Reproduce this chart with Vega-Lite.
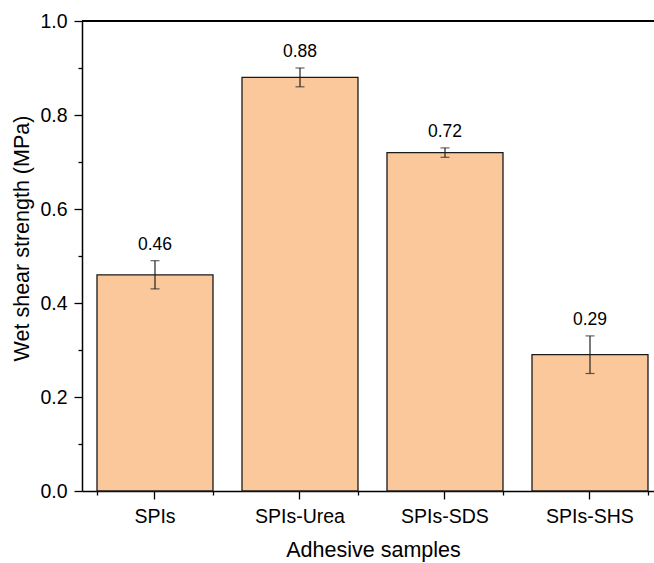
{
  "$schema": "https://vega.github.io/schema/vega-lite/v6.json",
  "width": 572,
  "height": 470,
  "autosize": {"type": "none"},
  "padding": {"left": 82, "top": 21, "right": 0, "bottom": 72},
  "background": "white",
  "config": {
    "view": {"stroke": null},
    "font": "Liberation Sans",
    "axis": {
      "domainColor": "#000000",
      "domainWidth": 1.5,
      "tickColor": "#000000",
      "tickWidth": 1.3,
      "labelColor": "#000000",
      "titleColor": "#000000",
      "labelFont": "Liberation Sans",
      "titleFont": "Liberation Sans",
      "titleFontWeight": "normal",
      "grid": false
    }
  },
  "data": {
    "values": [
      {"sample": "SPIs", "value": 0.46, "lo": 0.43, "hi": 0.49, "label": "0.46"},
      {"sample": "SPIs-Urea", "value": 0.88, "lo": 0.86, "hi": 0.90, "label": "0.88"},
      {"sample": "SPIs-SDS", "value": 0.72, "lo": 0.71, "hi": 0.73, "label": "0.72"},
      {"sample": "SPIs-SHS", "value": 0.29, "lo": 0.25, "hi": 0.33, "label": "0.29"}
    ]
  },
  "resolve": {"axis": {"x": "independent"}},
  "layer": [
    {
      "mark": {"type": "bar", "fill": "#FAC89B", "stroke": "#1a1a1a", "strokeWidth": 1.3},
      "encoding": {
        "x": {
          "field": "sample", "type": "nominal", "sort": null,
          "scale": {"paddingInner": 0.2, "paddingOuter": 0.0724, "align": 0.714, "round": false},
          "axis": {
            "orient": "bottom",
            "title": "Adhesive samples",
            "titleFontSize": 21.5,
            "titlePadding": 14,
            "titleX": 291,
            "labelFontSize": 19.5,
            "labelAngle": 0,
            "labelPadding": 8,
            "tickSize": 8,
            "offset": 0
          }
        },
        "y": {
          "field": "value", "type": "quantitative",
          "title": "Wet shear strength (MPa)",
          "scale": {"domain": [0, 1], "nice": false, "zero": true},
          "axis": {
            "values": [0, 0.1, 0.2, 0.3, 0.4, 0.5, 0.6, 0.7, 0.8, 0.9, 1.0],
            "labelExpr": "round(datum.value*10) % 2 == 0 ? format(datum.value, '.1f') : ''",
            "tickSize": {"condition": {"test": "round(datum.value*10) % 2 == 0", "value": 8}, "value": 4},
            "labelFontSize": 19.5,
            "labelPadding": 7,
            "titleFontSize": 21.5,
            "titlePadding": 6,
            "titleY": 217,
            "offset": 0
          }
        }
      }
    },
    {
      "mark": {"type": "rule", "color": "#222222", "strokeWidth": 1.2},
      "encoding": {
        "x": {
          "field": "sample", "type": "nominal", "sort": null,
          "axis": {
            "orient": "bottom",
            "tickBand": "extent",
            "labels": false,
            "title": null,
            "domain": false,
            "tickSize": 4,
            "offset": 0
          }
        },
        "y": {"field": "lo", "type": "quantitative", "title": "Wet shear strength (MPa)"},
        "y2": {"field": "hi"}
      }
    },
    {
      "mark": {"type": "tick", "color": "#222222", "thickness": 1.2, "size": 9},
      "encoding": {
        "x": {"field": "sample", "type": "nominal", "sort": null, "axis": null},
        "y": {"field": "lo", "type": "quantitative", "title": "Wet shear strength (MPa)"}
      }
    },
    {
      "mark": {"type": "tick", "color": "#222222", "thickness": 1.2, "size": 9},
      "encoding": {
        "x": {"field": "sample", "type": "nominal", "sort": null, "axis": null},
        "y": {"field": "hi", "type": "quantitative", "title": "Wet shear strength (MPa)"}
      }
    },
    {
      "mark": {"type": "text", "fontSize": 17.5, "font": "Liberation Sans", "color": "#000000", "baseline": "alphabetic", "dy": -11},
      "encoding": {
        "x": {"field": "sample", "type": "nominal", "sort": null, "axis": null},
        "y": {"field": "hi", "type": "quantitative", "title": "Wet shear strength (MPa)"},
        "text": {"field": "label"}
      }
    },
    {
      "mark": {"type": "rule", "color": "#000000", "strokeWidth": 1.5},
      "encoding": {
        "y": {"datum": 1, "type": "quantitative", "title": "Wet shear strength (MPa)"}
      }
    }
  ]
}
